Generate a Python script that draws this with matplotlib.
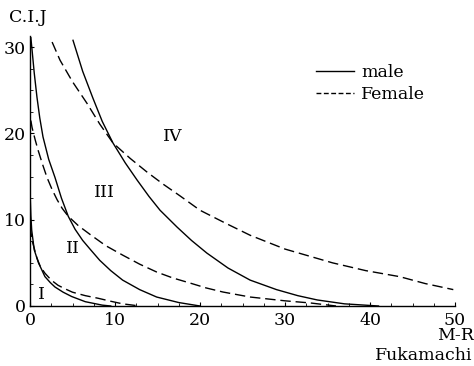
import matplotlib
matplotlib.use("Agg")
import matplotlib.pyplot as plt
from matplotlib.lines import Line2D
from matplotlib.ticker import MultipleLocator

# curves (M-R on x, C.I.J on y)
male_1_x = [0, 0.1, 0.2, 0.5, 1.0, 1.76, 2.4, 2.94, 3.9, 4.9, 6.5, 8.5, 9.5]
male_1_y = [13.4, 10.5, 8.8, 6.5, 5.0, 3.4, 2.7, 2.2, 1.6, 1.1, 0.5, 0.1, 0]

female_1_x = [0, 0.3, 0.8, 1.2, 1.76, 2.5, 3.3, 4.1, 5.0, 6.5, 8.0, 9.5, 10.9, 12.9]
female_1_y = [9.2, 7.4, 5.6, 4.6, 3.8, 3.0, 2.4, 2.0, 1.6, 1.2, 0.9, 0.55, 0.25, 0]

male_2_x = [0.1, 0.24, 0.5, 0.82, 1.15, 1.53, 2.2, 2.94, 3.7, 4.5, 5.3, 6.2,
            7.06, 8.2, 9.5, 10.9, 12.9, 14.9, 17.5, 20]
male_2_y = [31.1, 29.7, 27.0, 24.2, 21.8, 19.6, 17.0, 14.9, 12.5, 10.4, 8.9, 7.6,
            6.6, 5.3, 4.1, 3.0, 1.9, 1.04, 0.4, 0]

female_2_x = [0.1, 0.24, 0.6, 0.94, 1.45, 2.0, 2.6, 3.2, 3.8, 4.5, 5.7, 7.06,
              8.9, 10.9, 12.9, 14.9, 16.8, 18.8, 20.7, 22.7, 25.9, 30, 33, 36]
female_2_y = [21.5, 20.7, 19.3, 18.1, 16.5, 14.9, 13.5, 12.3, 11.3, 10.4, 9.3, 8.3,
              7.0, 5.9, 4.85, 3.94, 3.25, 2.67, 2.1, 1.62, 1.04, 0.6, 0.35, 0]

male_3_x = [5.06, 6.2, 7.4, 8.5, 9.76, 11.2, 12.6, 14, 15.3, 17.3, 19, 20.8,
            23.3, 25.9, 29, 31.5, 33.8, 37, 41]
male_3_y = [30.8, 27.2, 24.1, 21.4, 18.9, 16.6, 14.6, 12.7, 11.1, 9.15, 7.6, 6.14,
            4.4, 3.0, 1.9, 1.2, 0.7, 0.25, 0]

female_3_x = [2.6, 3.53, 5, 6.7, 8.2, 9.76, 11.8, 13.8, 15.7, 17.6, 20, 23,
              25.9, 30, 35.6, 39.5, 43.5, 46.5, 49.8]
female_3_y = [30.6, 28.5, 26.0, 23.5, 21.1, 18.9, 17.1, 15.5, 14.1, 12.8, 11.1, 9.6,
              8.2, 6.6, 5.0, 4.1, 3.4, 2.6, 1.9]

x_ticks = [0, 10, 20, 30, 40, 50]
y_ticks = [0, 10, 20, 30]

# region labels and where they sit
regions = ["I", "II", "III", "IV"]
region_x = [1.4, 5.1, 8.8, 16.8]
region_y = [1.3, 6.7, 13.2, 19.6]

W, H = 474, 366
plt.rcParams["font.family"] = "DejaVu Serif"

fig = plt.figure(figsize=(W / 100, H / 100), dpi=100)
ax = fig.add_axes([30 / W, 60 / H, 425 / W, 270 / H])

dash = (0, (7.5, 3.5))
lw = 1.0
ax.plot(male_1_x, male_1_y, color="black", lw=lw)
ax.plot(male_2_x, male_2_y, color="black", lw=lw)
ax.plot(male_3_x, male_3_y, color="black", lw=lw)
ax.plot(female_1_x, female_1_y, color="black", lw=lw, linestyle=dash)
ax.plot(female_2_x, female_2_y, color="black", lw=lw, linestyle=dash)
ax.plot(female_3_x, female_3_y, color="black", lw=lw, linestyle=dash)

ax.set_xlim(0, 50)
ax.set_ylim(0, 31.3)
ax.set_xticks(x_ticks)
ax.set_yticks(y_ticks)
ax.xaxis.set_minor_locator(MultipleLocator(2.5))
ax.yaxis.set_minor_locator(MultipleLocator(2.5))
ax.tick_params(which="major", direction="in", length=3, width=0.8,
               labelsize=12.5, pad=4)
ax.tick_params(which="minor", direction="in", length=2, width=0.6)
ax.tick_params(axis="y", pad=3)

for s in ["top", "right"]:
    ax.spines[s].set_visible(False)
for s in ["left", "bottom"]:
    ax.spines[s].set_linewidth(1.0)

for name, rx, ry in zip(regions, region_x, region_y):
    ax.text(rx, ry, name, fontsize=12.5, ha="center", va="center")

handles = [Line2D([], [], color="black", lw=lw),
           Line2D([], [], color="black", lw=lw, linestyle=(0, (3.5, 1.8)))]
fig.legend(handles, ["male", "Female"], loc="upper left",
           bbox_to_anchor=(316 / W, 1 - 64 / H), frameon=False,
           fontsize=12.5, handlelength=2.2, handletextpad=0.4,
           labelspacing=0.3, borderpad=0, borderaxespad=0)

fig.text(9 / W, 1 - 18 / H, "C.I.J", fontsize=12.5, ha="left", va="center")
fig.text(474 / W, 1 - 336 / H, "M-R", fontsize=12.5, ha="right", va="center")
fig.text(472 / W, 1 - 356 / H, "Fukamachi", fontsize=12.5, ha="right", va="center")

fig.savefig("out.png", dpi=100)
